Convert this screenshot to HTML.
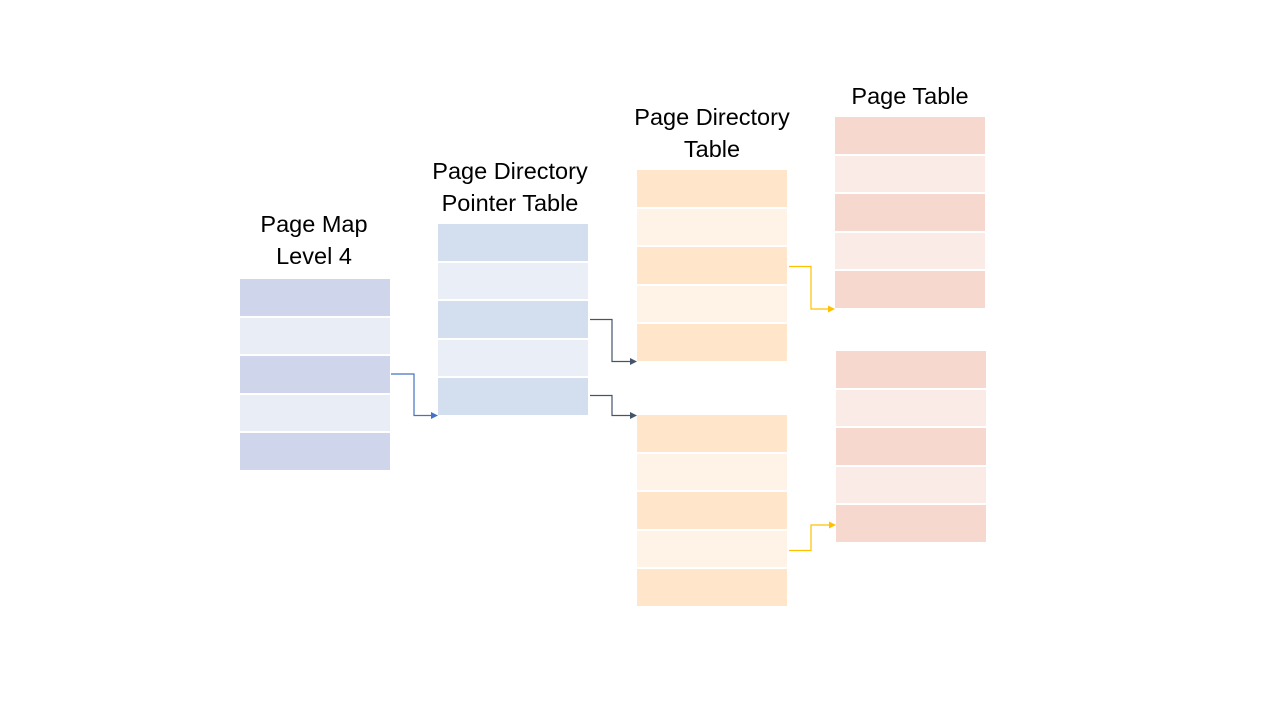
<!DOCTYPE html>
<html><head><style>
body{margin:0;width:1280px;height:720px;background:#fff;position:relative;overflow:hidden;font-family:"Liberation Sans",sans-serif}
.t{position:absolute;width:150px;}
.t div{height:36.6px;margin-bottom:2px}
.lbl{position:absolute;width:240px;text-align:center;font-size:23.5px;line-height:32px;color:#000}
.b .d{background:#CFD5EA}.b .l{background:#E9EDF6}
.c .d{background:#D3DEEF}.c .l{background:#EAEFF7}
.o .d{background:#FFE6CB}.o .l{background:#FFF3E7}
.p .d{background:#F7D8CE}.p .l{background:#FBEBE6}
</style></head><body>
<div class="lbl" style="left:194px;top:208px">Page Map<br>Level 4</div>
<div class="lbl" style="left:390px;top:155px">Page Directory<br>Pointer Table</div>
<div class="lbl" style="left:592px;top:101px">Page Directory<br>Table</div>
<div class="lbl" style="left:790px;top:80px">Page Table</div>

<div class="t b" style="left:240px;top:279px"><div class="d"></div><div class="l"></div><div class="d"></div><div class="l"></div><div class="d"></div></div>
<div class="t c" style="left:438px;top:224px"><div class="d"></div><div class="l"></div><div class="d"></div><div class="l"></div><div class="d"></div></div>
<div class="t o" style="left:637px;top:170px"><div class="d"></div><div class="l"></div><div class="d"></div><div class="l"></div><div class="d"></div></div>
<div class="t o" style="left:637px;top:415px"><div class="d"></div><div class="l"></div><div class="d"></div><div class="l"></div><div class="d"></div></div>
<div class="t p" style="left:835px;top:117px"><div class="d"></div><div class="l"></div><div class="d"></div><div class="l"></div><div class="d"></div></div>
<div class="t p" style="left:836px;top:351px"><div class="d"></div><div class="l"></div><div class="d"></div><div class="l"></div><div class="d"></div></div>

<svg width="1280" height="720" style="position:absolute;left:0;top:0">
<g fill="none" stroke-width="1.2">
<polyline points="391,374 414,374 414,415.5 432,415.5" stroke="#4472C4"/>
<polyline points="590,319.5 612,319.5 612,361.5 630,361.5" stroke="#44546A"/>
<polyline points="590,395.5 612,395.5 612,415.5 630,415.5" stroke="#44546A"/>
<polyline points="789,266.5 811,266.5 811,309 829,309" stroke="#FFC000"/>
<polyline points="789,550.5 811,550.5 811,525 829,525" stroke="#FFC000"/>
</g>
<polygon points="438,415.5 431,412 431,419" fill="#4472C4"/>
<polygon points="637,361.5 630,358 630,365" fill="#44546A"/>
<polygon points="637,415.5 630,412 630,419" fill="#44546A"/>
<polygon points="835,309 828,305.5 828,312.5" fill="#FFC000"/>
<polygon points="836,525 829,521.5 829,528.5" fill="#FFC000"/>
</svg>
</body></html>
